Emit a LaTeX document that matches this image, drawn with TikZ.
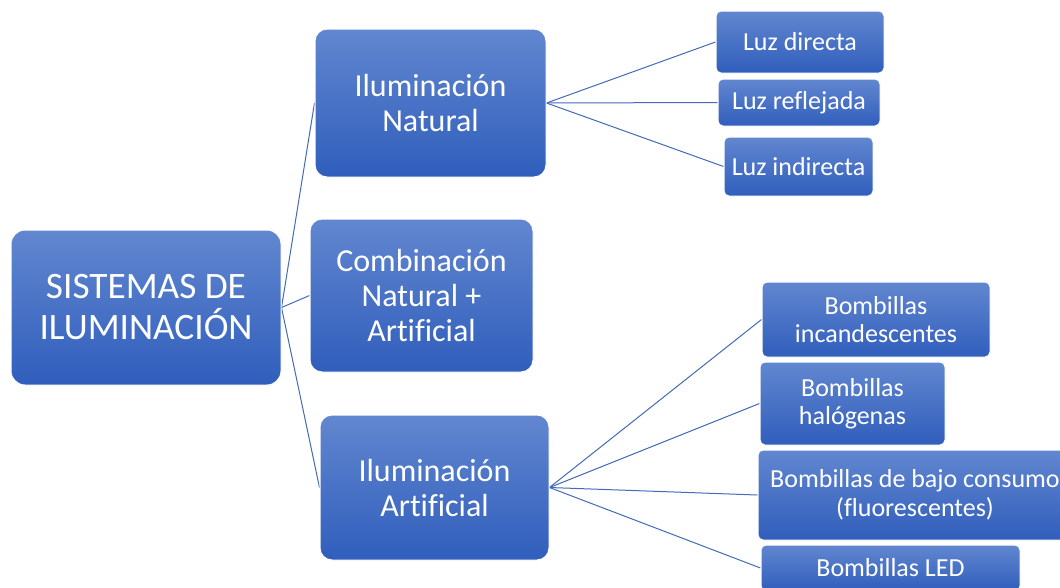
\documentclass[tikz,border=0pt]{standalone}
\usepackage{fontspec}
\setmainfont{Carlito}[Ligatures=NoCommon]
\usetikzlibrary{backgrounds}
\definecolor{boxtop}{RGB}{98,135,208}
\definecolor{boxbot}{RGB}{48,94,188}
\definecolor{linkc}{RGB}{68,106,184}
\tikzset{
  box/.style={draw=white, line width=1pt, top color=boxtop, bottom color=boxbot,
    text=white, align=center, inner sep=0pt, anchor=center},
  bigbox/.style={box, rounded corners=14pt, font=\fontsize{37.3}{41}\selectfont},
  midbox/.style={box, rounded corners=12pt, font=\fontsize{32}{35}\selectfont},
  smallbox/.style={box, rounded corners=5pt, font=\fontsize{26}{28.5}\selectfont},
  link/.style={draw=linkc, line width=1pt}
}
\begin{document}
\begin{tikzpicture}[x=1pt,y=-1pt]
\clip (0,0) rectangle (1060,587);
\useasboundingbox (0,0) rectangle (1060,587);
% main nodes
\node[bigbox, minimum width=270pt, minimum height=155pt] (root) at (146,307.5) {SISTEMAS DE\\ILUMINACIÓN};
\node[midbox, minimum width=231pt, minimum height=148pt] (nat) at (430.5,103) {Iluminación\\Natural};
\node[midbox, minimum width=223pt, minimum height=153pt] (comb) at (421.5,295.5) {Combinación\\Natural +\\Artificial};
\node[midbox, minimum width=229pt, minimum height=145pt] (art) at (434.5,487.5) {Iluminación\\Artificial};
% natural children
\node[smallbox, minimum width=168pt, minimum height=62pt] (dir) at (800,42) {Luz directa};
\node[smallbox, minimum width=162pt, minimum height=47pt] (ref) at (799,102.5) {Luz reflejada};
\node[smallbox, minimum width=149pt, minimum height=59pt] (ind) at (798.5,166.5) {Luz indirecta};
% artificial children
\node[smallbox, minimum width=228pt, minimum height=75pt] (inc) at (876,319.5) {Bombillas\\incandescentes};
\node[smallbox, minimum width=185pt, minimum height=83pt] (hal) at (852.5,403.5) {Bombillas\\halógenas};
\node[smallbox, minimum width=314pt, minimum height=90pt] (baj) at (915,495) {Bombillas de bajo consumo\\(fluorescentes)};
\node[smallbox, minimum width=259pt, minimum height=46pt] (led) at (890.5,568) {Bombillas LED};
\begin{scope}[on background layer]
\fill[white] (0,0) rectangle (1060,587);
\draw[link] (root.east) -- (nat.west);
\draw[link] (root.east) -- (comb.west);
\draw[link] (root.east) -- (art.west);
\draw[link] (nat.east) -- (dir.west);
\draw[link] (nat.east) -- (ref.west);
\draw[link] (nat.east) -- (ind.west);
\draw[link] (art.east) -- (inc.west);
\draw[link] (art.east) -- (hal.west);
\draw[link] (art.east) -- (baj.west);
\draw[link] (art.east) -- (led.west);
\end{scope}
\end{tikzpicture}
\end{document}
